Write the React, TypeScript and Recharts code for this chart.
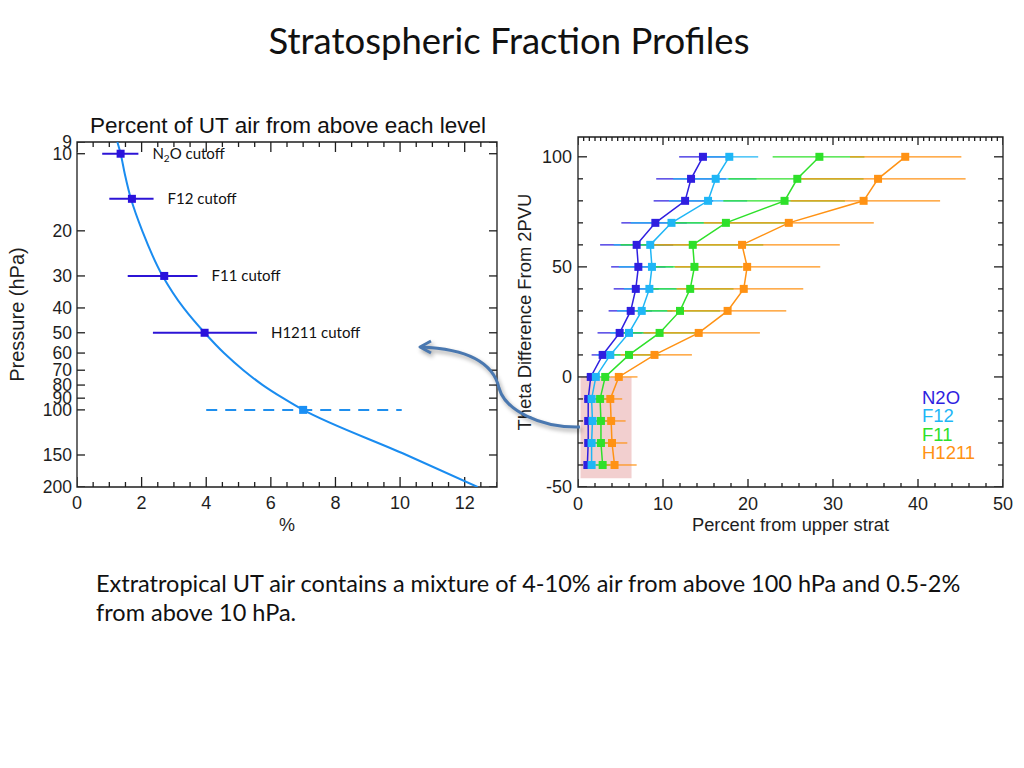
import React from 'react';
import { ScatterChart, Scatter, XAxis, YAxis, ZAxis, ErrorBar, ReferenceArea, LabelList, Legend } from 'recharts';

// ---- left panel: percent of UT air from above each pressure level ----
const curvePressure = [9, 10, 12, 15, 20, 30, 40, 50, 60, 70, 80, 90, 100, 150, 200];
const curvePercent = [1.25, 1.35, 1.48, 1.67, 2.02, 2.65, 3.3, 3.95, 4.55, 5.15, 5.75, 6.38, 7.0, 10.2, 12.4];

const cutoffNames = ['N2O', 'F12', 'F11', 'H1211'];
const cutoffPressure = [10, 15, 30, 50];
const cutoffPercent = [1.35, 1.7, 2.7, 3.95];
const cutoffLow = [0.78, 1.0, 1.57, 2.35];
const cutoffHigh = [1.9, 2.37, 3.73, 5.57];

const refPressure = [100];
const refPercent = [7.0];
const refLow = [4.0];
const refHigh = [10.05];

const pressureDomain = [9, 200];
const percentDomain = [0, 13];
const pressureTicks = [9, 10, 20, 30, 40, 50, 60, 70, 80, 90, 100, 150, 200];
const percentTicks = [0, 2, 4, 6, 8, 10, 12];
const percentAll = Array.from({ length: 27 }, (_, i) => i * 0.5);

// ---- right panel: percent from upper strat vs theta difference ----
const theta = [100, 90, 80, 70, 60, 50, 40, 30, 20, 10, 0, -10, -20, -30, -40];

const n2oPct = [14.7, 13.3, 12.6, 9.1, 6.9, 7.1, 6.8, 6.2, 4.9, 2.9, 1.5, 1.2, 1.2, 1.2, 1.1];
const n2oLo = [11.9, 9.2, 8.9, 5.1, 2.6, 3.9, 4.2, 3.6, 2.3, 1.6, 1.0, 0.7, 0.8, 0.8, 0.7];
const n2oHi = [17.5, 17.4, 15.9, 12.8, 11.2, 10.3, 9.5, 8.7, 7.5, 4.2, 2.0, 1.8, 1.8, 1.8, 1.9];

const f12Pct = [17.8, 16.2, 15.3, 11.0, 8.5, 8.7, 8.4, 7.5, 6.0, 3.8, 2.1, 1.6, 1.7, 1.6, 1.6];
const f12Lo = [14.4, 11.2, 10.7, 6.2, 4.2, 4.8, 5.4, 4.6, 3.8, 2.2, 1.5, 1.0, 1.1, 1.0, 1.0];
const f12Hi = [21.2, 21.0, 19.9, 14.8, 10.1, 11.2, 11.6, 11.1, 8.5, 5.0, 2.6, 2.3, 2.4, 2.3, 2.4];

const f11Pct = [28.4, 25.8, 24.3, 17.4, 13.5, 13.7, 13.2, 12.0, 9.6, 6.0, 3.2, 2.6, 2.7, 2.7, 2.9];
const f11Lo = [22.9, 17.7, 17.1, 10.5, 5.0, 8.7, 8.1, 6.9, 5.4, 3.8, 2.2, 1.9, 2.0, 2.0, 2.1];
const f11Hi = [33.7, 33.6, 31.4, 24.6, 21.8, 19.3, 18.3, 16.7, 14.4, 9.7, 3.8, 3.4, 3.5, 3.5, 3.8];

const h1211Pct = [38.5, 35.3, 33.6, 24.8, 19.3, 19.9, 19.5, 17.6, 14.2, 9.0, 4.8, 3.8, 3.9, 4.0, 4.3];
const h1211Lo = [32.0, 26.2, 25.0, 14.8, 8.5, 11.4, 11.6, 10.5, 7.7, 5.0, 3.8, 2.8, 3.0, 3.0, 3.2];
const h1211Hi = [45.1, 45.6, 42.6, 34.8, 30.8, 28.5, 26.5, 24.5, 21.4, 13.4, 7.0, 5.2, 5.6, 5.8, 6.9];

const thetaDomain = [-50, 109];
const stratDomain = [0, 50];
const thetaTicks = [-50, 0, 50, 100];
const thetaAll = [-50, -40, -30, -20, -10, 0, 10, 20, 30, 40, 50, 60, 70, 80, 90, 100];
const stratTicks = [0, 10, 20, 30, 40, 50];
const stratAll = Array.from({ length: 26 }, (_, i) => i * 2);
const stratAllTop = Array.from({ length: 76 }, (_, i) => (i * 2) / 3);

// shaded box around the tropospheric part
const boxX = [0.3, 6.3];
const boxY = [-46, 0];

const curveData = curvePressure.map((p, i) => ({ p, x: curvePercent[i] }));
const cutoffData = cutoffNames.map((name, i) => ({
  name, p: cutoffPressure[i], x: cutoffPercent[i],
  err: [cutoffPercent[i] - cutoffLow[i], cutoffHigh[i] - cutoffPercent[i]],
}));
const labelData = cutoffNames.map((name, i) => ({ name, p: cutoffPressure[i], x: cutoffHigh[i] }));
const refData = refPressure.map((p, i) => ({ p, x: refPercent[i], err: [refPercent[i] - refLow[i], refHigh[i] - refPercent[i]] }));

const rows = (x: number[], lo: number[], hi: number[]) =>
  theta.map((t, i) => ({ theta: t, pct: x[i], err: [x[i] - lo[i], hi[i] - x[i]] }));

const series = [
  { name: 'N2O', color: '#2f1fe0', data: rows(n2oPct, n2oLo, n2oHi) },
  { name: 'F12', color: '#1fb6f6', data: rows(f12Pct, f12Lo, f12Hi) },
  { name: 'F11', color: '#2ee02a', data: rows(f11Pct, f11Lo, f11Hi) },
  { name: 'H1211', color: '#ff9214', data: rows(h1211Pct, h1211Lo, h1211Hi) },
];

// inward tick marks on all four sides of the frame (IDL style), placed through the chart scales
const isIn = (list: number[], v: number) => list.some((m) => Math.abs(m - v) < 1e-6);
function frameTicks(xk: string, yk: string, xDom: number[], yDom: number[],
  xBottom: number[], xTop: number[], xMajor: number[], yAll: number[], yMajor: number[]) {
  const out: any[] = [];
  xBottom.forEach((v) => out.push({ [xk]: v, [yk]: yDom[0] === 9 ? yDom[1] : yDom[0], side: 'b', major: isIn(xMajor, v) }));
  xTop.forEach((v) => out.push({ [xk]: v, [yk]: yDom[0] === 9 ? yDom[0] : yDom[1], side: 't', major: isIn(xMajor, v) }));
  yAll.forEach((v) => out.push({ [xk]: xDom[0], [yk]: v, side: 'l', major: isIn(yMajor, v) }));
  yAll.forEach((v) => out.push({ [xk]: xDom[1], [yk]: v, side: 'r', major: isIn(yMajor, v) }));
  return out;
}
const leftTicks = frameTicks('x', 'p', percentDomain, pressureDomain, percentAll, percentAll, percentTicks, pressureTicks, pressureTicks);
const rightTicks = frameTicks('pct', 'theta', stratDomain, thetaDomain, stratAll, stratAllTop, stratTicks, thetaAll, thetaTicks);

const HELV = '"Liberation Sans", Arial, Helvetica, sans-serif';
const CALIBRI = 'Lato, "Open Sans", sans-serif';
const INK = '#1e1e1e';
const noShape = () => <g />;

function makeTickShape(xLong: number, xShort: number, yLong: number, yShort: number) {
  return (props: any) => {
    const { cx, cy, payload } = props;
    const horiz = payload.side === 'l' || payload.side === 'r';
    const len = horiz ? (payload.major ? yLong : yShort) : (payload.major ? xLong : xShort);
    const d = payload.side === 'b' ? [0, -len] : payload.side === 't' ? [0, len] : payload.side === 'l' ? [len, 0] : [-len, 0];
    return <line x1={cx} y1={cy} x2={cx + d[0]} y2={cy + d[1]} stroke={INK} strokeWidth={1.3} />;
  };
}
const leftTickShape = makeTickShape(10, 5, 8, 8);
const rightTickShape = makeTickShape(8, 4, 9, 5);

// axis tick labels only (marks are drawn on the frame)
function TickText(props: any) {
  const { x, y, payload, side, major, fontSize, off } = props;
  const v = payload.value;
  if (!isIn(major, v)) return <g />;
  if (side === 'bottom') {
    return <text x={x} y={y + off} textAnchor="middle" fill={INK} fontSize={fontSize} fontFamily={HELV}>{v}</text>;
  }
  return <text x={x - off} y={y} textAnchor="end" dominantBaseline="central" fill={INK} fontSize={fontSize} fontFamily={HELV}>{v}</text>;
}

function VTitle(props: any) {
  const vb = props.viewBox || { x: 0, y: 0, width: 0, height: 0 };
  const cx = vb.x + props.dx;
  const cy = vb.y + vb.height / 2;
  return (
    <text x={cx} y={cy} transform={`rotate(-90 ${cx} ${cy})`} textAnchor="middle" dominantBaseline="central"
      fill={INK} fontSize={props.size} fontFamily={HELV}>{props.text}</text>
  );
}

function CutoffLabel(props: any) {
  const vb = props.viewBox && props.viewBox.width !== undefined ? props.viewBox
    : { x: props.x, y: props.y, width: props.width || 0, height: props.height || 0 };
  const cx = vb.x + vb.width / 2 + 14;
  const cy = vb.y + vb.height / 2 + 5;
  const v = String(props.value);
  return (
    <text x={cx} y={cy} fill="#111" fontSize={15} fontFamily={CALIBRI}>
      {v === 'N2O' ? (<>N<tspan fontSize={10} dy={3}>2</tspan><tspan dy={-3}>O cutoff</tspan></>) : `${v} cutoff`}
    </text>
  );
}

function LeftChart() {
  return (
    <ScatterChart width={520} height={450} margin={{ top: 42, right: 23, bottom: 23, left: 0 }}>
      <ZAxis range={[85, 85]} />
      <XAxis type="number" dataKey="x" domain={percentDomain} allowDataOverflow ticks={percentTicks} interval={0}
        height={40} tickSize={0} tickMargin={0} axisLine={false} tickLine={false}
        tick={<TickText side="bottom" major={percentTicks} fontSize={18} off={22} />}
        label={{ value: '%', position: 'insideBottom', offset: -4, fill: INK, fontSize: 18, fontFamily: HELV }} />
      <YAxis type="number" dataKey="p" scale="log" domain={pressureDomain} allowDataOverflow reversed
        ticks={pressureTicks} interval={0} width={77} tickSize={0} tickMargin={0} axisLine={false} tickLine={false}
        tick={<TickText side="left" major={pressureTicks} fontSize={17.5} off={5} />}
        label={<VTitle text="Pressure (hPa)" dx={17} size={20} />} />

      <ReferenceArea x1={percentDomain[0]} x2={percentDomain[1]} y1={pressureDomain[0]} y2={pressureDomain[1]}
        fill="none" stroke={INK} strokeWidth={1.3} ifOverflow="visible" />
      <Scatter data={leftTicks} shape={leftTickShape} isAnimationActive={false} legendType="none" />

      <Scatter data={curveData} shape={noShape} line={{ stroke: '#1a8cf0', strokeWidth: 2 }}
        lineJointType="monotoneY" isAnimationActive={false} legendType="none" />
      <Scatter data={refData} shape="square" fill="#1a8ff5" isAnimationActive={false}>
        <ErrorBar dataKey="err" direction="x" width={0} stroke="#1f8fee" strokeWidth={2} strokeDasharray="11 8" />
      </Scatter>
      <Scatter data={cutoffData} shape="square" fill="#2a12dc" isAnimationActive={false}>
        <ErrorBar dataKey="err" direction="x" width={0} stroke="#2c14d6" strokeWidth={2} />
      </Scatter>
      <Scatter data={labelData} shape={noShape} isAnimationActive={false}>
        <LabelList dataKey="name" content={<CutoffLabel />} />
      </Scatter>
    </ScatterChart>
  );
}

function SeriesLegend() {
  return (
    <div style={{ fontFamily: HELV, fontSize: 18.5, lineHeight: '18.4px' }}>
      {series.map((s) => (
        <div key={s.name} style={{ color: s.color }}>{s.name}</div>
      ))}
    </div>
  );
}

function RightChart() {
  return (
    <ScatterChart width={524} height={450} margin={{ top: 37, right: 21, bottom: 23, left: 0 }}>
      <ZAxis range={[121, 121]} />
      <XAxis type="number" dataKey="pct" domain={stratDomain} allowDataOverflow ticks={stratTicks} interval={0}
        height={40} tickSize={0} tickMargin={0} axisLine={false} tickLine={false}
        tick={<TickText side="bottom" major={stratTicks} fontSize={18} off={23} />}
        label={{ value: 'Percent from upper strat', position: 'insideBottom', offset: -4, fill: INK, fontSize: 18.3, fontFamily: HELV }} />
      <YAxis type="number" dataKey="theta" domain={thetaDomain} allowDataOverflow ticks={thetaTicks} interval={0}
        width={78} tickSize={0} tickMargin={0} axisLine={false} tickLine={false}
        tick={<TickText side="left" major={thetaTicks} fontSize={18} off={6} />}
        label={<VTitle text="Theta Difference From 2PVU" dx={24} size={18.4} />} />

      <ReferenceArea x1={stratDomain[0]} x2={stratDomain[1]} y1={thetaDomain[0]} y2={thetaDomain[1]}
        fill="none" stroke={INK} strokeWidth={1.3} ifOverflow="visible" />
      <Scatter data={rightTicks} shape={rightTickShape} isAnimationActive={false} legendType="none" />

      {series.map((s) => (
        <Scatter key={s.name} name={s.name} data={s.data} shape="square" fill={s.color}
          line={{ stroke: s.color, strokeWidth: 1.5 }} isAnimationActive={false}>
          <ErrorBar dataKey="err" direction="x" width={0} stroke={s.color} strokeWidth={1.2} />
        </Scatter>
      ))}
      <ReferenceArea x1={boxX[0]} x2={boxX[1]} y1={boxY[0]} y2={boxY[1]}
        fill="#d86a6a" fillOpacity={0.32} stroke="none" />
      <Legend layout="vertical" align="center" verticalAlign="middle" content={<SeriesLegend />}
        wrapperStyle={{ left: 422, top: 289, width: 'auto' }} />
    </ScatterChart>
  );
}

export default function App() {
  return (
    <div style={{ position: 'absolute', left: 0, top: 0, width: 1024, height: 768, background: '#fff', overflow: 'hidden' }}>
      <div style={{ position: 'absolute', left: 0, top: 17, width: 1018, textAlign: 'center', fontFamily: CALIBRI,
        fontSize: 36.5, lineHeight: '46px', color: '#111' }}>
        Stratospheric Fraction Profiles
      </div>
      <div style={{ position: 'absolute', left: 38, top: 112, width: 500, textAlign: 'center', fontFamily: HELV,
        fontSize: 22.5, lineHeight: '28px', color: '#111', whiteSpace: 'nowrap' }}>
        Percent of UT air from above each level
      </div>
      <div style={{ position: 'absolute', left: 0, top: 100 }}>
        <LeftChart />
      </div>
      <div style={{ position: 'absolute', left: 500, top: 100 }}>
        <RightChart />
      </div>
      <svg width={1024} height={768} style={{ position: 'absolute', left: 0, top: 0, pointerEvents: 'none',
        filter: 'drop-shadow(2px 3px 2px rgba(0,0,0,0.35))' }}>
        <path d="M580,427 C540,428 505,410 499,388 C494,366 472,349 421,347" fill="none" stroke="#4a78b0" strokeWidth={3} />
        <path d="M431,341 L420,347 L431,353" fill="none" stroke="#4a78b0" strokeWidth={3} strokeLinejoin="round" />
      </svg>
      <div style={{ position: 'absolute', left: 96, top: 569, fontFamily: CALIBRI, fontSize: 23.5, lineHeight: '29px', color: '#111' }}>
        Extratropical UT air contains a mixture of 4-10% air from above 100 hPa and 0.5-2%<br />
        from above 10 hPa.
      </div>
    </div>
  );
}
